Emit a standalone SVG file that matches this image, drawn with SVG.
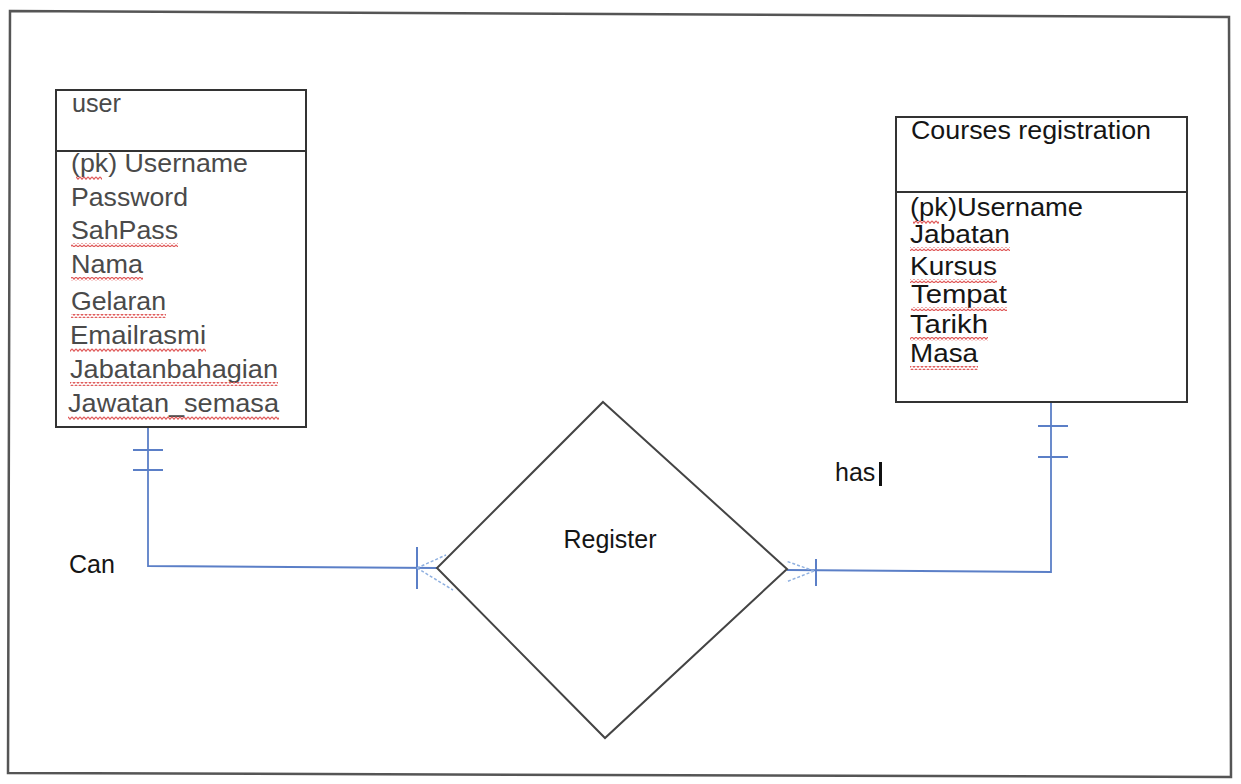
<svg xmlns="http://www.w3.org/2000/svg" width="1241" height="784" viewBox="0 0 1241 784">
  <style>
    .frame { fill: #ffffff; stroke: #555555; stroke-width: 2.5; }
    .box { fill: #ffffff; stroke: #333333; stroke-width: 2; }
    .div { stroke: #333333; stroke-width: 2; }
    .lbl { font-family: "Liberation Sans", Arial, sans-serif; font-size: 25px; }
    .grey { fill: #4a4a4a; }
    .dark { fill: #151515; }
    .link { fill: none; stroke: #5b7fc7; stroke-width: 1.8; }
    .crow { fill: none; stroke: #8fb0e0; stroke-width: 1.5; stroke-dasharray: 3 2; }
    .tick { stroke: #5b7fc7; stroke-width: 2; }
    .diamond { fill: #ffffff; stroke: #444444; stroke-width: 2; }
    .spell { fill: url(#squiggle); }
  </style>
  <defs>
    <pattern id="squiggle" width="4" height="4" patternUnits="userSpaceOnUse">
      <path d="M0 0.8 L2 3.2 L4 0.8" fill="none" stroke="#e05a5a" stroke-width="1.2"/>
    </pattern>
  </defs>

  <!-- page frame -->
  <polygon class="frame" points="10,11 1229,17 1231,777 8,773"/>

  <!-- connectors -->
  <g id="connectors">
    <!-- user -> Register -->
    <polyline class="link" points="148,428 148,566 437,568"/>
    <line class="tick" x1="133" y1="450" x2="163" y2="450"/>
    <line class="tick" x1="133" y1="470" x2="163" y2="470"/>
    <line class="tick" x1="417" y1="547" x2="417" y2="589"/>
    <path class="crow" d="M417,568 L446,555 M417,568 L453,590"/>
    <!-- Courses registration -> Register -->
    <polyline class="link" points="1051,402 1051,572 787,570"/>
    <line class="tick" x1="1038" y1="426" x2="1068" y2="426"/>
    <line class="tick" x1="1038" y1="457" x2="1068" y2="457"/>
    <line class="tick" x1="816" y1="559" x2="816" y2="586"/>
    <path class="crow" d="M814,571 L786,561 M814,571 L786,582"/>
  </g>

  <!-- user entity -->
  <g id="user">
    <rect class="box" x="56" y="90" width="250" height="337"/>
    <line class="div" x1="56" y1="151" x2="306" y2="151"/>
    <text class="lbl grey" x="72" y="112" textLength="49" lengthAdjust="spacingAndGlyphs">user</text>
    <text class="lbl grey" x="71" y="172" textLength="177" lengthAdjust="spacingAndGlyphs">(pk) Username</text>
    <text class="lbl grey" x="71" y="206" textLength="117" lengthAdjust="spacingAndGlyphs">Password</text>
    <text class="lbl grey" x="71" y="239" textLength="107" lengthAdjust="spacingAndGlyphs">SahPass</text>
    <text class="lbl grey" x="71" y="273" textLength="72" lengthAdjust="spacingAndGlyphs">Nama</text>
    <text class="lbl grey" x="71" y="310" textLength="95" lengthAdjust="spacingAndGlyphs">Gelaran</text>
    <text class="lbl grey" x="70" y="344" textLength="136" lengthAdjust="spacingAndGlyphs">Emailrasmi</text>
    <text class="lbl grey" x="70" y="378" textLength="208" lengthAdjust="spacingAndGlyphs">Jabatanbahagian</text>
    <text class="lbl grey" x="68" y="412" textLength="211" lengthAdjust="spacingAndGlyphs">Jawatan_semasa</text>
    <!-- spell-check marks -->
    <rect class="spell" x="76" y="176" width="26" height="4"/>
    <rect class="spell" x="71" y="243" width="107" height="4"/>
    <rect class="spell" x="71" y="277" width="72" height="4"/>
    <rect class="spell" x="71" y="314" width="95" height="4"/>
    <rect class="spell" x="70" y="348" width="136" height="4"/>
    <rect class="spell" x="70" y="382" width="208" height="4"/>
    <rect class="spell" x="68" y="416" width="211" height="4"/>
  </g>

  <!-- courses registration entity -->
  <g id="courses-registration">
    <rect class="box" x="896" y="117" width="291" height="285"/>
    <line class="div" x1="896" y1="192" x2="1187" y2="192"/>
    <text class="lbl dark" x="911" y="139" textLength="240" lengthAdjust="spacingAndGlyphs">Courses registration</text>
    <text class="lbl dark" x="910" y="216" textLength="173" lengthAdjust="spacingAndGlyphs">(pk)Username</text>
    <text class="lbl dark" x="910" y="243" textLength="100" lengthAdjust="spacingAndGlyphs">Jabatan</text>
    <text class="lbl dark" x="910" y="275" textLength="87" lengthAdjust="spacingAndGlyphs">Kursus</text>
    <text class="lbl dark" x="911" y="303" textLength="96" lengthAdjust="spacingAndGlyphs">Tempat</text>
    <text class="lbl dark" x="910" y="333" textLength="78" lengthAdjust="spacingAndGlyphs">Tarikh</text>
    <text class="lbl dark" x="910" y="362" textLength="68" lengthAdjust="spacingAndGlyphs">Masa</text>
    <rect class="spell" x="913" y="220" width="26" height="4"/>
    <rect class="spell" x="910" y="247" width="100" height="4"/>
    <rect class="spell" x="910" y="279" width="87" height="4"/>
    <rect class="spell" x="911" y="307" width="96" height="4"/>
    <rect class="spell" x="910" y="337" width="78" height="4"/>
    <rect class="spell" x="910" y="366" width="68" height="4"/>
  </g>

  <!-- relationship -->
  <g id="register">
    <polygon class="diamond" points="603,402 787,569 605,738 437,568"/>
    <text class="lbl dark" x="610" y="548" text-anchor="middle" font-size="24">Register</text>
  </g>

  <!-- role labels -->
  <g id="label-can">
    <text class="lbl dark" x="69" y="573" font-size="24">Can</text>
  </g>
  <g id="label-has">
    <text class="lbl dark" x="835" y="481" font-size="24">has</text>
    <rect x="879" y="462" width="3" height="24" fill="#111111"/>
  </g>
</svg>
